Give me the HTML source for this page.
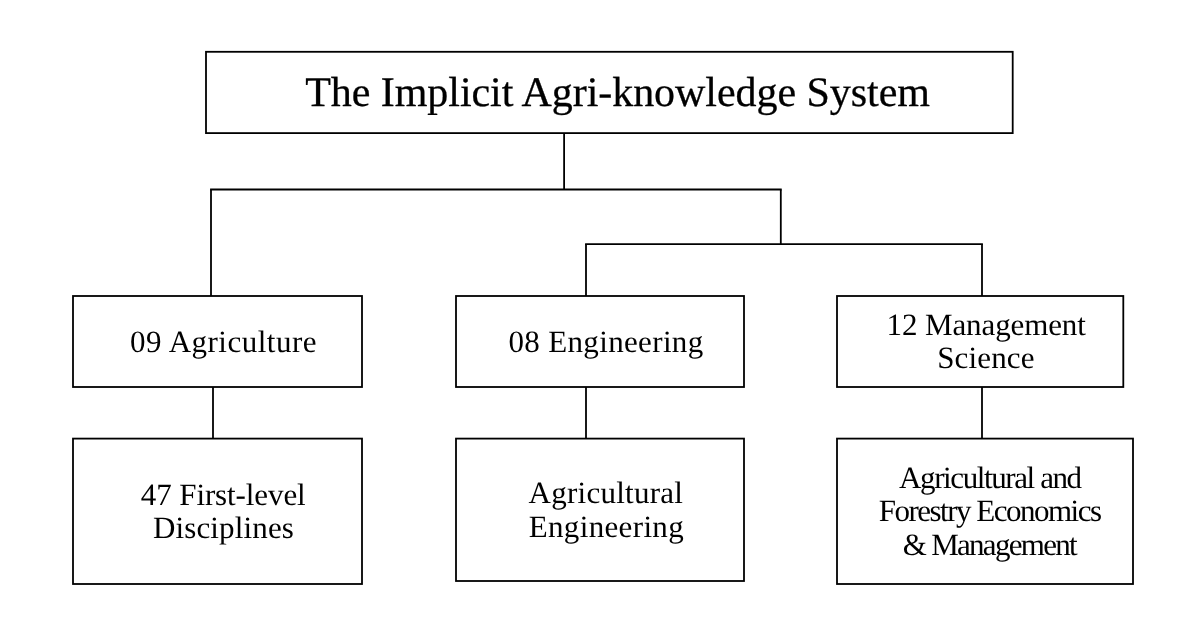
<!DOCTYPE html>
<html><head><meta charset="utf-8">
<style>
html,body{margin:0;padding:0;background:#fff;}
body{width:1198px;height:634px;position:relative;overflow:hidden;font-family:"Liberation Serif",serif;color:#000;will-change:transform;text-rendering:geometricPrecision;}
.t{position:absolute;white-space:nowrap;transform-origin:0 0;}
</style></head><body>
<svg width="1198" height="634" viewBox="0 0 1198 634" style="position:absolute;left:0;top:0">
<g fill="none" stroke="#000" stroke-width="1.8" stroke-linecap="square">
<path d="M564.1 133.1L564.1 189.5" stroke-linecap="butt"/>
<path d="M211.0 189.5L780.8 189.5" stroke-linecap="square"/>
<path d="M211.0 189.5L211.0 296.0" stroke-linecap="butt"/>
<path d="M780.8 189.5L780.8 244.1" stroke-linecap="butt"/>
<path d="M586.0 244.1L982.0 244.1" stroke-linecap="square"/>
<path d="M586.0 244.1L586.0 296.0" stroke-linecap="butt"/>
<path d="M982.0 244.1L982.0 296.0" stroke-linecap="butt"/>
<path d="M213.0 387.0L213.0 438.6" stroke-linecap="butt"/>
<path d="M586.0 387.0L586.0 438.6" stroke-linecap="butt"/>
<path d="M982.0 387.0L982.0 438.6" stroke-linecap="butt"/>
<rect x="206.0" y="51.8" width="806.7" height="81.3"/>
<rect x="73.0" y="296.0" width="289.0" height="91.0"/>
<rect x="456.0" y="296.0" width="288.0" height="91.0"/>
<rect x="837.0" y="296.0" width="286.3" height="91.0"/>
<rect x="73.0" y="438.6" width="289.0" height="145.4"/>
<rect x="456.0" y="438.6" width="288.0" height="142.4"/>
<rect x="837.0" y="438.6" width="296.0" height="145.4"/>
</g></svg>
<div class="t" style="left:305.2px;top:72.3px;font-size:42px;line-height:42px;letter-spacing:-0.05px;-webkit-text-stroke:0.3px #000;">The Implicit Agri-knowledge System</div>
<div class="t" style="left:130.1px;top:325.8px;font-size:31px;line-height:31px;letter-spacing:0.5px;">09 Agriculture</div>
<div class="t" style="left:508.4px;top:326.0px;font-size:31px;line-height:31px;letter-spacing:0.35px;">08 Engineering</div>
<div class="t" style="left:886.5px;top:309.2px;font-size:31px;line-height:31px;letter-spacing:-0.1px;">12 Management</div>
<div class="t" style="left:937.2px;top:342.0px;font-size:31px;line-height:31px;letter-spacing:0.15px;">Science</div>
<div class="t" style="left:140.8px;top:478.7px;font-size:31px;line-height:31px;letter-spacing:-0.1px;">47 First-level</div>
<div class="t" style="left:152.9px;top:511.9px;font-size:31px;line-height:31px;letter-spacing:0.15px;">Disciplines</div>
<div class="t" style="left:528.6px;top:477.0px;font-size:31px;line-height:31px;letter-spacing:0.25px;">Agricultural</div>
<div class="t" style="left:528.7px;top:510.6px;font-size:31px;line-height:31px;letter-spacing:0.35px;">Engineering</div>
<div class="t" style="left:899.1px;top:461.8px;font-size:31px;line-height:31px;letter-spacing:-1.4px;">Agricultural and</div>
<div class="t" style="left:878.7px;top:495.3px;font-size:31px;line-height:31px;letter-spacing:-1.5px;">Forestry Economics</div>
<div class="t" style="left:902.7px;top:528.6px;font-size:31px;line-height:31px;letter-spacing:-1.7px;">&amp; Management</div>
</body></html>
